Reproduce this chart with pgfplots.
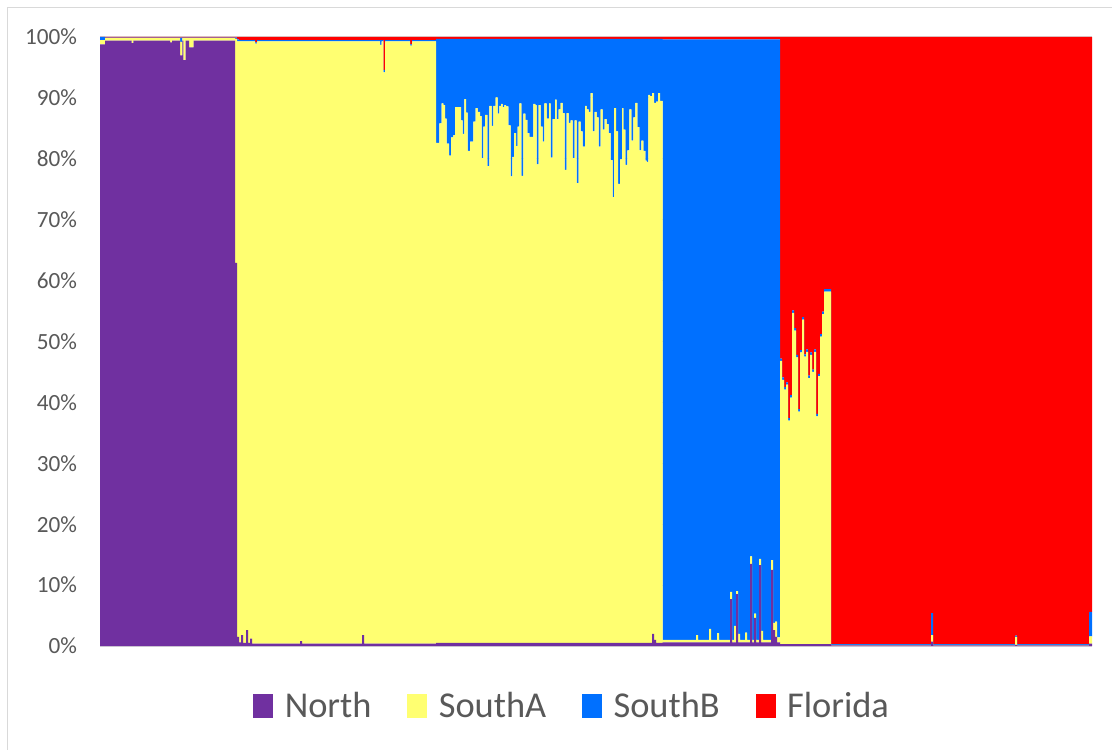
\documentclass[border=0pt]{standalone}
\usepackage{fontspec}
\setmainfont{Carlito}
\usepackage{pgfplots}
\usepackage{pgfplotstable}
\pgfplotsset{compat=1.18}
\definecolor{cNorth}{RGB}{112,48,160}
\definecolor{cSouthA}{RGB}{255,255,113}
\definecolor{cSouthB}{RGB}{0,112,255}
\definecolor{cFlorida}{RGB}{255,0,0}
\definecolor{txtgray}{RGB}{89,89,89}
\definecolor{linegray}{RGB}{217,217,217}

\pgfplotstableread{
x N A B F
0 0.988 0.007 0.005 0.000
5 0.994 0.004 0.001 0.001
31.7 0.990 0.008 0.001 0.001
33.3 0.994 0.004 0.001 0.001
70 0.991 0.007 0.001 0.001
72 0.994 0.004 0.001 0.001
80 0.970 0.022 0.007 0.001
82.3 0.994 0.004 0.001 0.001
83.3 0.962 0.036 0.001 0.001
85.7 0.994 0.004 0.001 0.001
89 0.983 0.015 0.001 0.001
93.7 0.994 0.004 0.001 0.001
135 0.629 0.368 0.002 0.001
137 0.015 0.978 0.003 0.004
139 0.006 0.987 0.002 0.005
141 0.018 0.975 0.002 0.005
143 0.005 0.988 0.002 0.005
146 0.026 0.967 0.002 0.005
148 0.005 0.988 0.002 0.005
150 0.012 0.981 0.002 0.005
152 0.004 0.989 0.002 0.005
155 0.004 0.985 0.002 0.009
157 0.004 0.989 0.002 0.005
200 0.008 0.985 0.002 0.005
202 0.004 0.989 0.002 0.005
262 0.018 0.975 0.002 0.005
264 0.004 0.989 0.002 0.005
280 0.004 0.983 0.008 0.005
281.7 0.004 0.989 0.002 0.005
283.3 0.004 0.938 0.004 0.054
285 0.004 0.989 0.002 0.005
310 0.004 0.982 0.002 0.012
312 0.004 0.989 0.002 0.005
336.0 0.005 0.821 0.171 0.003
339.3 0.005 0.853 0.139 0.003
341.7 0.005 0.886 0.106 0.003
343.3 0.005 0.883 0.109 0.003
345.0 0.005 0.861 0.131 0.003
346.7 0.005 0.820 0.172 0.003
349.0 0.005 0.800 0.192 0.003
351.0 0.005 0.830 0.162 0.003
353.3 0.005 0.834 0.158 0.003
355.0 0.005 0.880 0.112 0.003
361.0 0.005 0.858 0.134 0.003
362.7 0.005 0.836 0.156 0.003
364.3 0.005 0.893 0.099 0.003
366.0 0.005 0.871 0.121 0.003
367.7 0.005 0.808 0.184 0.003
370.0 0.005 0.823 0.169 0.003
373.3 0.005 0.856 0.136 0.003
375.7 0.005 0.878 0.114 0.003
377.7 0.005 0.872 0.120 0.003
380.0 0.005 0.865 0.127 0.003
381.7 0.005 0.796 0.196 0.003
383.3 0.005 0.848 0.144 0.003
385.0 0.005 0.867 0.125 0.003
387.3 0.005 0.783 0.209 0.003
389.3 0.005 0.882 0.110 0.003
391.7 0.005 0.849 0.143 0.003
393.3 0.005 0.882 0.110 0.003
395.7 0.005 0.896 0.096 0.003
397.7 0.005 0.869 0.123 0.003
399.3 0.005 0.882 0.110 0.003
401.0 0.005 0.885 0.107 0.003
402.7 0.005 0.880 0.112 0.003
404.3 0.005 0.883 0.109 0.003
406.0 0.005 0.881 0.111 0.003
408.3 0.005 0.850 0.142 0.003
410.7 0.005 0.766 0.226 0.003
412.3 0.005 0.798 0.194 0.003
414.0 0.005 0.837 0.155 0.003
416.0 0.005 0.816 0.176 0.003
417.7 0.005 0.848 0.144 0.003
419.3 0.005 0.886 0.106 0.003
421.3 0.005 0.767 0.225 0.003
423.3 0.005 0.869 0.123 0.003
425.3 0.005 0.859 0.133 0.003
427.3 0.005 0.837 0.155 0.003
429.3 0.005 0.831 0.161 0.003
433.3 0.005 0.885 0.107 0.003
435.3 0.005 0.883 0.109 0.003
436.7 0.005 0.786 0.206 0.003
438.7 0.005 0.883 0.109 0.003
440.7 0.005 0.848 0.144 0.003
442.7 0.005 0.823 0.169 0.003
444.3 0.005 0.886 0.106 0.003
446.7 0.005 0.861 0.131 0.003
449.0 0.005 0.886 0.106 0.003
450.7 0.005 0.797 0.195 0.003
452.7 0.005 0.860 0.132 0.003
455.0 0.005 0.892 0.100 0.003
456.7 0.005 0.860 0.132 0.003
458.7 0.005 0.876 0.116 0.003
460.7 0.005 0.887 0.105 0.003
462.7 0.005 0.870 0.122 0.003
464.7 0.005 0.777 0.215 0.003
466.7 0.005 0.870 0.122 0.003
468.7 0.005 0.854 0.138 0.003
470.7 0.005 0.858 0.134 0.003
472.7 0.005 0.796 0.196 0.003
474.7 0.005 0.858 0.134 0.003
476.7 0.005 0.755 0.237 0.003
478.7 0.005 0.856 0.136 0.003
480.7 0.005 0.840 0.152 0.003
482.7 0.005 0.815 0.177 0.003
485.0 0.005 0.882 0.110 0.003
486.7 0.005 0.876 0.116 0.003
488.7 0.005 0.872 0.120 0.003
490.7 0.005 0.903 0.089 0.003
492.7 0.005 0.840 0.152 0.003
494.7 0.005 0.872 0.120 0.003
496.7 0.005 0.863 0.129 0.003
498.7 0.005 0.815 0.177 0.003
500.7 0.005 0.876 0.116 0.003
502.7 0.005 0.843 0.149 0.003
504.7 0.005 0.860 0.132 0.003
506.7 0.005 0.852 0.140 0.003
508.7 0.005 0.837 0.155 0.003
510.7 0.005 0.793 0.199 0.003
512.7 0.005 0.732 0.260 0.003
514.0 0.005 0.878 0.114 0.003
516.0 0.005 0.840 0.152 0.003
518.0 0.005 0.754 0.238 0.003
520.0 0.005 0.794 0.198 0.003
522.0 0.005 0.878 0.114 0.003
523.3 0.005 0.843 0.149 0.003
525.3 0.005 0.785 0.207 0.003
527.3 0.005 0.809 0.183 0.003
529.3 0.005 0.876 0.116 0.003
531.3 0.005 0.825 0.167 0.003
533.3 0.005 0.863 0.129 0.003
535.3 0.005 0.887 0.105 0.003
537.3 0.005 0.847 0.145 0.003
539.3 0.005 0.809 0.183 0.003
541.3 0.005 0.825 0.167 0.003
543.3 0.005 0.808 0.184 0.003
545.3 0.005 0.792 0.200 0.003
546.7 0.005 0.790 0.202 0.003
548.3 0.005 0.900 0.092 0.003
550.0 0.005 0.898 0.094 0.003
552.0 0.020 0.888 0.089 0.003
554.0 0.010 0.882 0.105 0.003
556.0 0.005 0.889 0.103 0.003
558.0 0.005 0.903 0.089 0.003
560.0 0.005 0.890 0.102 0.003
562.7 0.006 0.004 0.986 0.004
596 0.006 0.012 0.978 0.004
598 0.006 0.004 0.986 0.004
609 0.006 0.022 0.968 0.004
611 0.006 0.004 0.986 0.004
617 0.006 0.015 0.975 0.004
619 0.006 0.004 0.986 0.004
630 0.077 0.012 0.907 0.004
632 0.006 0.004 0.986 0.004
634 0.006 0.027 0.963 0.004
636 0.085 0.005 0.906 0.004
638 0.006 0.014 0.976 0.004
640 0.006 0.004 0.986 0.004
645 0.006 0.016 0.974 0.004
647 0.006 0.004 0.986 0.004
650 0.135 0.012 0.849 0.004
652 0.006 0.004 0.986 0.004
654 0.046 0.007 0.943 0.004
656 0.006 0.004 0.986 0.004
659 0.133 0.010 0.853 0.004
661 0.006 0.019 0.971 0.004
663 0.006 0.004 0.986 0.004
671 0.125 0.016 0.855 0.004
673 0.026 0.012 0.958 0.004
675 0.015 0.025 0.956 0.004
677 0.006 0.008 0.982 0.004
680 0.003 0.465 0.004 0.528
682 0.003 0.434 0.004 0.559
684 0.003 0.418 0.004 0.575
686 0.003 0.426 0.004 0.567
688 0.003 0.367 0.004 0.626
690 0.003 0.405 0.004 0.588
692 0.003 0.544 0.004 0.449
694 0.003 0.515 0.004 0.478
696 0.003 0.471 0.004 0.522
698 0.003 0.382 0.004 0.611
700 0.003 0.479 0.004 0.514
702 0.003 0.533 0.004 0.460
704 0.003 0.472 0.004 0.521
706 0.003 0.480 0.004 0.513
708 0.003 0.437 0.004 0.556
710 0.003 0.475 0.004 0.518
712 0.003 0.447 0.004 0.546
714 0.003 0.480 0.004 0.513
716 0.003 0.374 0.004 0.619
718 0.003 0.440 0.004 0.553
720 0.003 0.505 0.004 0.488
722 0.003 0.542 0.004 0.451
724 0.003 0.579 0.004 0.414
731 0.001 0.001 0.001 0.997
831 0.007 0.011 0.036 0.946
833 0.001 0.001 0.001 0.997
915 0.002 0.013 0.002 0.983
917 0.001 0.001 0.001 0.997
989 0.004 0.012 0.040 0.944
992 0.004 0.012 0.040 0.944
}\admix

\begin{document}
\begin{tikzpicture}
\useasboundingbox (0pt,0pt) rectangle (834pt,561.75pt);
\fill[white] (0pt,0pt) rectangle (834pt,561.75pt);
\draw[linegray, line width=0.75pt] (5.25pt,-2pt) -- (5.25pt,555.75pt) -- (840pt,555.75pt);
\begin{axis}[
  at={(75pt,77.25pt)}, anchor=south west,
  scale only axis, width=744pt, height=456.75pt,
  xmin=0, xmax=992, ymin=0, ymax=1,
  enlargelimits=false,
  stack plots=y, const plot mark left,
  axis x line*=bottom, axis y line*=left,
  x axis line style={draw=linegray, line width=0.75pt},
  y axis line style={draw=none},
  xtick=\empty,
  ytick={0,0.1,0.2,0.3,0.4,0.5,0.6,0.7,0.8,0.9,1},
  yticklabels={0\%,10\%,20\%,30\%,40\%,50\%,60\%,70\%,80\%,90\%,100\%},
  major tick length=0pt,
  ymajorgrids, grid style={linegray, line width=0.75pt},
  yticklabel style={font=\fontsize{17.4}{20}\selectfont, text=txtgray, inner sep=0pt, anchor=east, xshift=-17pt},
  legend columns=-1,
  legend image code/.code={\fill[#1] (0pt,-9pt) rectangle (15pt,9pt);},
  legend style={at={(0.475,-0.0985)}, anchor=center, draw=none, fill=none,
    font=\fontsize{27.3}{31}\selectfont, text=txtgray,
    nodes={inner xsep=0pt, inner ysep=1pt},
    /tikz/every odd column/.append style={column sep=8.5pt},
    /tikz/every even column/.append style={column sep=27pt}},
]
\addplot[fill=cNorth, draw=none] table[x=x, y=N] {\admix} \closedcycle;
\addplot[fill=cSouthA, draw=none] table[x=x, y=A] {\admix} \closedcycle;
\addplot[fill=cSouthB, draw=none] table[x=x, y=B] {\admix} \closedcycle;
\addplot[fill=cFlorida, draw=none] table[x=x, y=F] {\admix} \closedcycle;
\legend{North, SouthA, SouthB, Florida}
\end{axis}
\end{tikzpicture}
\end{document}
